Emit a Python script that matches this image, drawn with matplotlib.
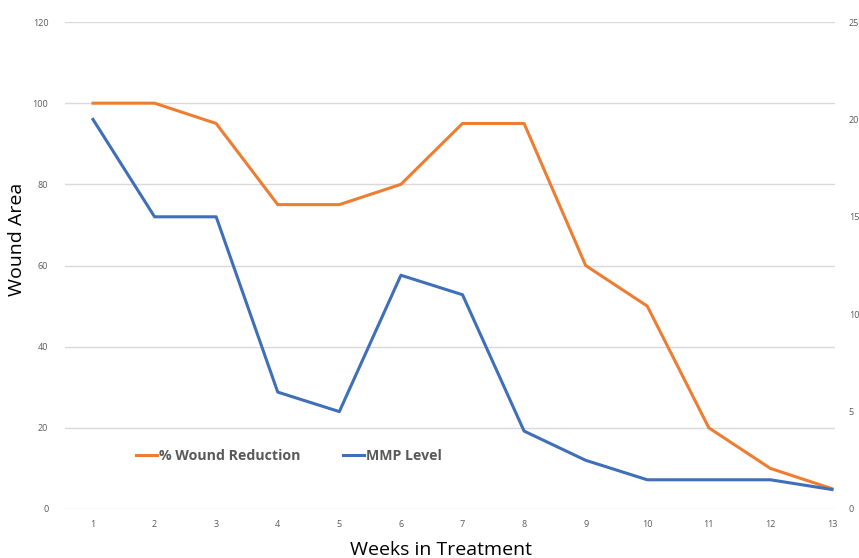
import matplotlib.pyplot as plt
import numpy as np

# data
weeks = list(range(1, 14))
wound_reduction = [100, 100, 95, 75, 75, 80, 95, 95, 60, 50, 20, 10, 5]
mmp_level = [20, 15, 15, 6, 5, 12, 11, 4, 2.5, 1.5, 1.5, 1.5, 1]
left_ticks = [0, 20, 40, 60, 80, 100, 120]
right_ticks = [0, 5, 10, 15, 20, 25]

ORANGE = '#ED7D31'
BLUE = '#3F6FB8'
GRID = '#D9D9D9'
TICK = '#595959'

plt.rcParams['font.family'] = ['Open Sans', 'DejaVu Sans']

fig = plt.figure(figsize=(8.59, 5.58), dpi=100)
ax = fig.add_axes([65 / 859, 1 - 509 / 558, 770 / 859, 487 / 558])
ax2 = ax.twinx()

line1, = ax.plot(weeks, wound_reduction, color=ORANGE, lw=2.2,
                 solid_joinstyle='round', label='% Wound Reduction', zorder=3)
line2, = ax2.plot(weeks, mmp_level, color=BLUE, lw=2.2,
                  solid_joinstyle='round', label='MMP Level', zorder=3)

ax.set_ylim(0, 120)
ax2.set_ylim(0, 25)
ax.set_xlim(1 - 28 / 61.6, 13 + 3 / 61.6)
ax.set_yticks(left_ticks)
ax2.set_yticks(right_ticks)
ax.set_xticks(weeks)

ax.grid(axis='y', color=GRID, lw=1)
ax.set_axisbelow(True)
for a in (ax, ax2):
    for s in a.spines.values():
        s.set_visible(False)
    a.tick_params(length=0, labelsize=6.5, labelcolor=TICK)
ax.tick_params(axis='y', pad=12)
ax2.tick_params(axis='y', pad=10)
ax.tick_params(axis='x', pad=8)

ax.set_ylabel('Wound Area', fontsize=14, va='center')
ax.yaxis.set_label_coords(-0.062, 0.554)
ax.set_xlabel('Weeks in Treatment', fontsize=14, va='center')
ax.xaxis.set_label_coords(0.488, -0.084)

leg = ax.legend([line1, line2], ['% Wound Reduction', 'MMP Level'],
                loc='center left', bbox_to_anchor=(0.075, 0.109), ncol=2,
                frameon=False, handlelength=1.5, handletextpad=0.15,
                columnspacing=3.0, prop={'weight': 'bold', 'size': 10.2})
for t in leg.get_texts():
    t.set_color(TICK)

fig.savefig('out.png', dpi=100)
